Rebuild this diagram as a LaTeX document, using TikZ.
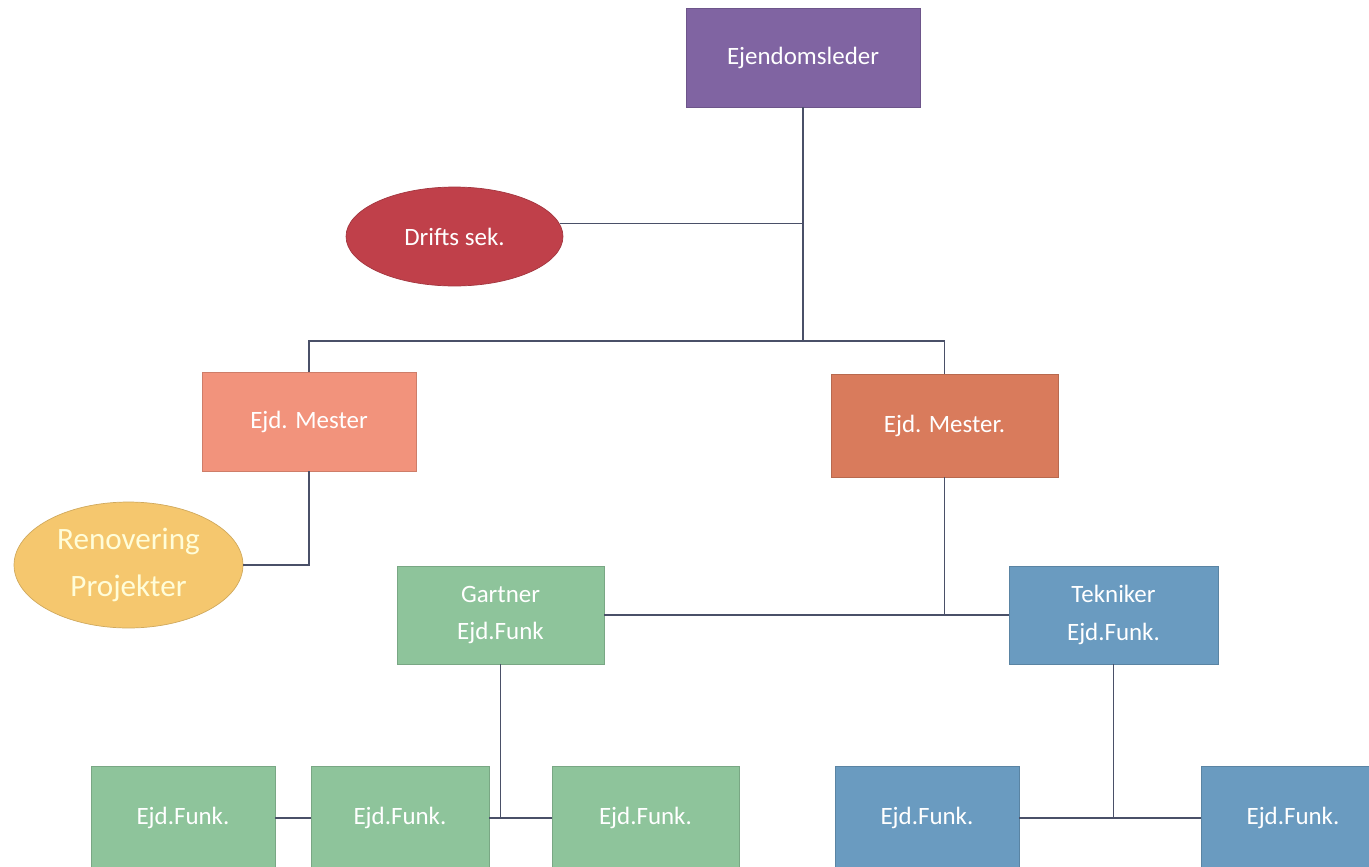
\documentclass[tikz,border=0pt]{standalone}
\usepackage{fontspec}
\setmainfont{Carlito}
\usetikzlibrary{shapes.geometric}
\definecolor{leadpurple}{HTML}{8064A2}
\definecolor{driftred}{HTML}{C0404A}
\definecolor{mesterlight}{HTML}{F2937C}
\definecolor{mesterdark}{HTML}{D97B5C}
\definecolor{renoyellow}{HTML}{F5C76E}
\definecolor{funkgreen}{HTML}{8EC49B}
\definecolor{funkblue}{HTML}{6A9BC0}
\definecolor{linegray}{HTML}{4A5068}

\begin{document}
\begin{tikzpicture}[
  x=0.02cm, y=-0.02cm,
  box/.style={
    rectangle,
    fill=#1,
    draw=#1!85!black,
    line width=0.4pt,
    text=white,
    align=center,
    font=\fontsize{14.2}{21.5}\selectfont
  },
  oval/.style={
    ellipse,
    fill=#1,
    draw=#1!85!black,
    line width=0.4pt,
    text=white,
    align=center,
    inner sep=0pt,
    font=\fontsize{14.2}{21.5}\selectfont
  },
  link/.style={draw=linegray, line width=0.6pt}
]
  \useasboundingbox (0,0) rectangle (1369,866);
  \clip (0,0) rectangle (1369,866);

  \node[box=leadpurple, minimum width=4.68cm, minimum height=1.98cm] (lead) at (803,57.5) {Ejendomsleder};
  \node[oval=driftred, minimum width=4.34cm, minimum height=1.98cm] (drift) at (454.5,236.5) {Drifts sek.};
  \node[box=mesterlight, minimum width=4.28cm, minimum height=1.98cm] (mesterA) at (309,421.5) {Ejd. Mester};
  \node[box=mesterdark, minimum width=4.54cm, minimum height=2.06cm] (mesterB) at (944.5,425.5) {Ejd. Mester.};
  \node[oval=renoyellow, minimum width=4.58cm, minimum height=2.52cm,
        text=white!85!yellow, font=\fontsize{17.7}{27}\selectfont] (reno) at (128.5,565) {Renovering\\Projekter};
  \node[box=funkgreen, minimum width=4.14cm, minimum height=1.96cm] (gartner) at (500.5,615) {Gartner\\Ejd.Funk};
  \node[box=funkblue, minimum width=4.18cm, minimum height=1.96cm] (tekniker) at (1113.5,615) {Tekniker\\Ejd.Funk.};

  \node[box=funkgreen, minimum width=3.68cm, minimum height=2.08cm] (funkA) at (183,818) {Ejd.Funk.};
  \node[box=funkgreen, minimum width=3.56cm, minimum height=2.08cm] (funkB) at (400,818) {Ejd.Funk.};
  \node[box=funkgreen, minimum width=3.74cm, minimum height=2.08cm] (funkC) at (645.5,818) {Ejd.Funk.};
  \node[box=funkblue, minimum width=3.68cm, minimum height=2.08cm] (funkD) at (927,818) {Ejd.Funk.};
  \node[box=funkblue, minimum width=3.68cm, minimum height=2.08cm] (funkE) at (1293,818) {Ejd.Funk.};

  \coordinate (bar) at (803,341);
  \draw[link] (lead.south) -- (bar);
  \draw[link] (drift.7) -- (drift.7 -| lead.south);
  \draw[link] (mesterA.north) -- (mesterA.north |- bar) -- (mesterB.north |- bar) -- (mesterB.north);
  \draw[link] (reno.east) -| (mesterA.south);
  \draw[link] (mesterB.south) -- (mesterB.south |- gartner.east);
  \draw[link] (gartner.east) -- (tekniker.west);
  \draw[link] (gartner.south) -- (gartner.south |- funkB.east);
  \draw[link] (funkA.east) -- (funkB.west);
  \draw[link] (funkB.east) -- (funkC.west);
  \draw[link] (tekniker.south) -- (tekniker.south |- funkD.east);
  \draw[link] (funkD.east) -- (funkE.west);
\end{tikzpicture}
\end{document}
